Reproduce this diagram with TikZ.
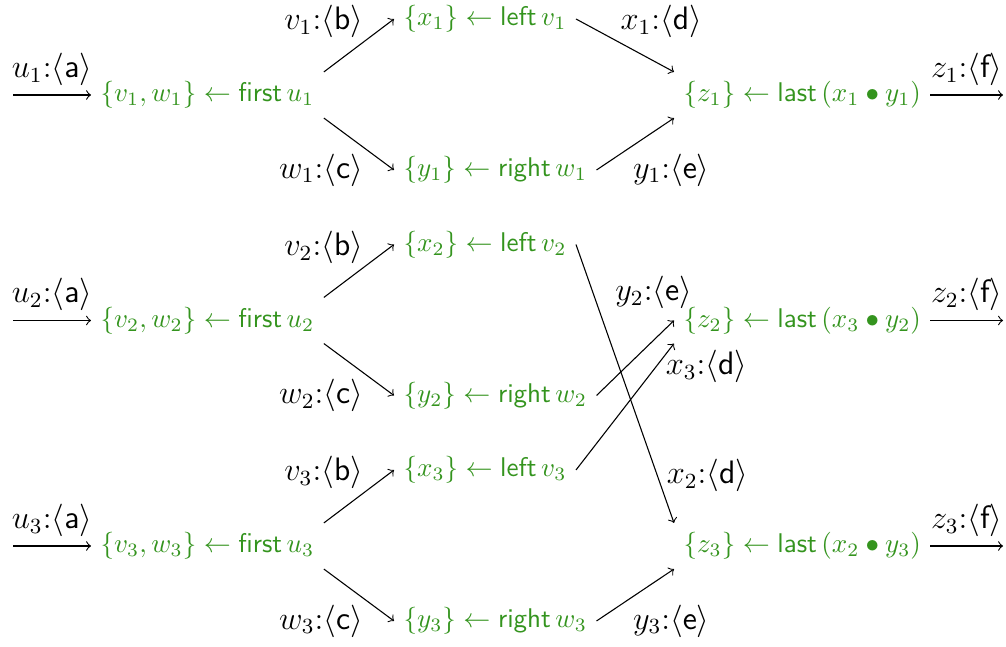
\documentclass[tikz,border=0pt]{standalone}
\usepackage{xcolor}
\usepackage{tikz}
\usetikzlibrary{positioning}
\definecolor{stmtgreen}{RGB}{52,148,30}
\tikzstyle{arrow} = [->,>=to]

\begin{document}
\begin{tikzpicture}[
    x=0.013cm, y=-0.013cm,
    stmt/.style={text=stmtgreen, inner sep=3.33pt, anchor=west},
    lbl/.style={text=black, inner sep=0.5pt, font=\large}
]
\useasboundingbox (0,0) rectangle (1006,647);
\foreach \k/\ypos/\xi/\yi in {1/95/1/1, 2/320.5/3/2, 3/546/2/3} {
    \node[stmt] (f\k) at (91,\ypos) {$\{v_\k, w_\k\} \leftarrow \textsf{first}\,u_\k$};
    \node[stmt] (l\k) at (394,\ypos-76) {$\{x_\k\} \leftarrow \textsf{left}\,v_\k$};
    \node[stmt] (r\k) at (394,\ypos+75) {$\{y_\k\} \leftarrow \textsf{right}\,w_\k$};
    \node[stmt] (z\k) at (674,\ypos) {$\{z_\k\} \leftarrow \textsf{last}\,(x_\xi \bullet y_\yi)$};
    \coordinate (in\k) at (13,\ypos);
    \coordinate (out\k) at (1003,\ypos);
    \draw[arrow] (in\k) -- node[lbl, above=2.8pt] {$u_\k{:}\langle\textsf{a}\rangle$} (f\k);
    \draw[arrow] (f\k.north east) -- node[lbl, at end, left=10.8pt, yshift=-1pt] {$v_\k{:}\langle\textsf{b}\rangle$} (l\k.west);
    \draw[arrow] (f\k.south east) -- node[lbl, at end, left=10.8pt] {$w_\k{:}\langle\textsf{c}\rangle$} (r\k.west);
    \draw[arrow] (z\k) -- node[lbl, above=2.8pt] {$z_\k{:}\langle\textsf{f}\rangle$} (out\k);
}
% joins into the last statements
\draw[arrow] (l1.east) -- node[lbl, at start, right=15.8pt, yshift=-1pt] {$x_1{:}\langle\textsf{d}\rangle$} (z1.north west);
\draw[arrow] (r1.east) -- node[lbl, at start, right=12.8pt] {$y_1{:}\langle\textsf{e}\rangle$} (z1.south west);
\draw[arrow] (r2.east) -- node[lbl, at end, above=3.8pt, xshift=-7.5pt] {$y_2{:}\langle\textsf{e}\rangle$} (z2.west);
\draw[arrow] (l3.east) -- node[lbl, pos=0.82, right=2.8pt] {$x_3{:}\langle\textsf{d}\rangle$} (z2.south west);
\draw[arrow] (l2.east) -- node[lbl, pos=0.83, right=2.8pt] {$x_2{:}\langle\textsf{d}\rangle$} (z3.north west);
\draw[arrow] (r3.east) -- node[lbl, at start, right=12.8pt] {$y_3{:}\langle\textsf{e}\rangle$} (z3.south west);
\end{tikzpicture}
\end{document}
